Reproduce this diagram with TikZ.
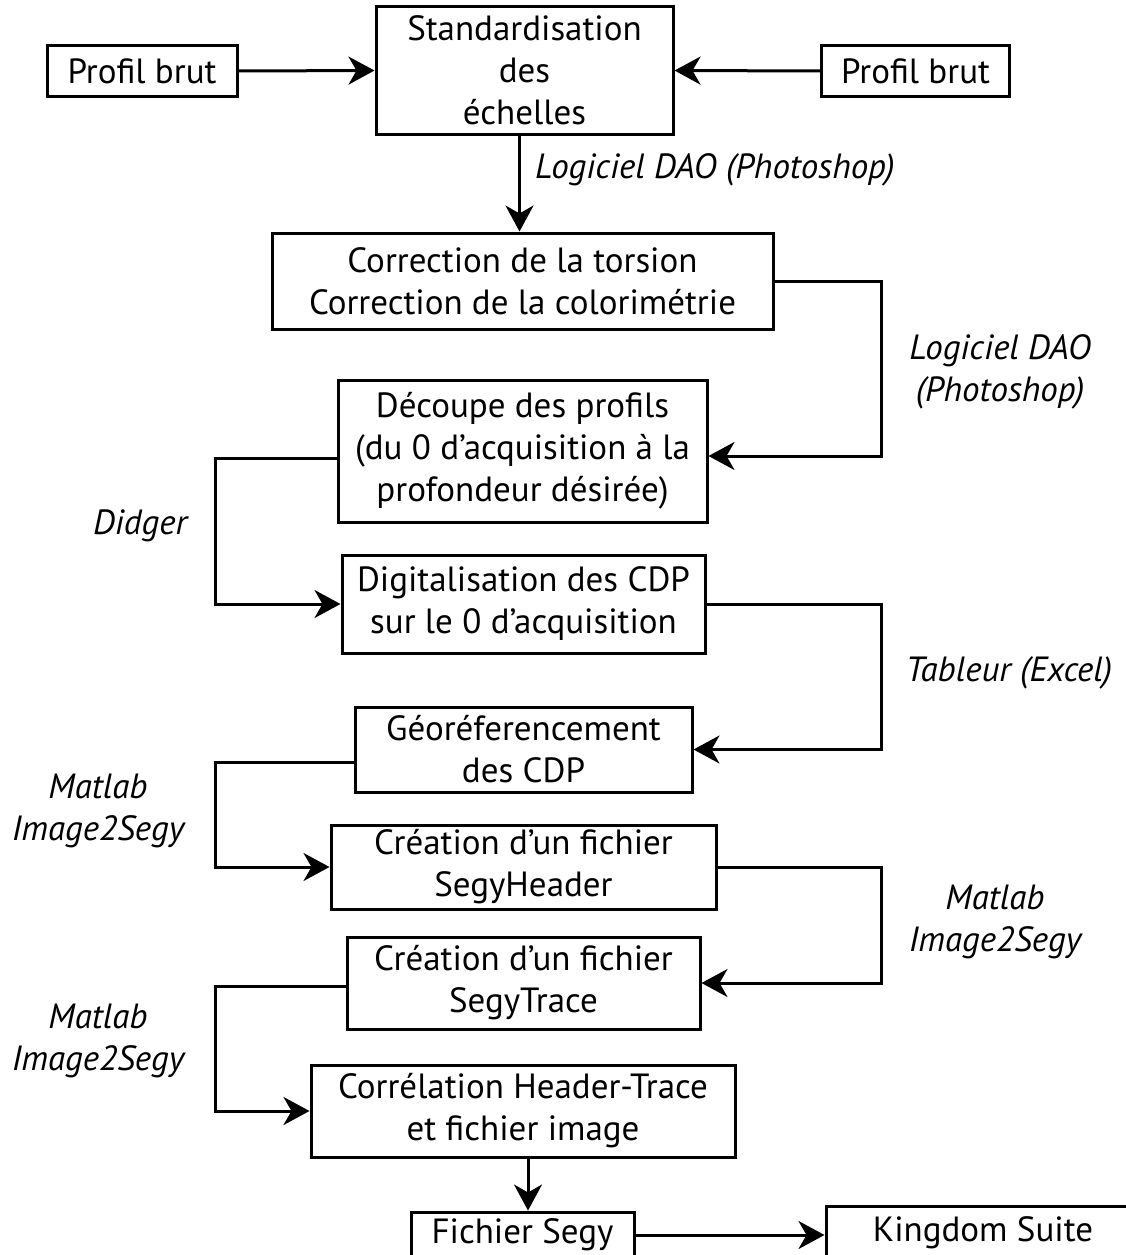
\documentclass[tikz,border=0pt]{standalone}
\usepackage{fontspec}
\setmainfont{PT Sans}
\usetikzlibrary{arrows.meta}
\newcommand\fs{\fontsize{35}{42}\selectfont}
\newcommand\shiftlines[2]{\raisebox{#1}{\begin{tabular}{@{}c@{}}#2\end{tabular}}}
\tikzset{
  bx/.style={draw, line width=3pt, inner sep=0pt, align=center, font=\fs},
  lbl/.style={font=\fs\itshape, align=center, inner sep=0pt},
  con/.style={line width=3pt, -{Stealth[length=26pt,width=28pt,inset=8pt]}},
}
\begin{document}
\begin{tikzpicture}[x=1pt,y=-1pt]
\useasboundingbox (0,0) rectangle (1126,1255);
\fill[white] (0,0) rectangle (1126,1255);
\coordinate (xl) at (215,0);
\coordinate (xr) at (881,0);

\node[bx, minimum width=190pt, minimum height=51pt] (A) at (142,71) {Profil brut};
\node[bx, minimum width=297pt, minimum height=127pt] (B) at (524.5,70.5) {Standardisation\\des\\échelles};
\node[bx, minimum width=188pt, minimum height=51pt] (C) at (915.5,71) {Profil brut};
\node[bx, minimum width=501pt, minimum height=96pt] (D) at (522.5,281) {Correction de la torsion\\Correction de la colorimétrie};
\node[bx, minimum width=369pt, minimum height=142pt] (E) at (522.5,451) {\shiftlines{4pt}{Découpe des profils\\(du 0 d’acquisition à la\\profondeur désirée)}};
\node[bx, minimum width=363pt, minimum height=98pt] (F) at (523.5,604) {Digitalisation des CDP\\sur le 0 d’acquisition};
\node[bx, minimum width=337pt, minimum height=85pt] (G) at (523.5,749.5) {Géoréferencement\\des CDP};
\node[bx, minimum width=385pt, minimum height=84pt] (H) at (523.5,867) {Création d’un fichier\\SegyHeader};
\node[bx, minimum width=353pt, minimum height=92pt] (I) at (523.5,983) {Création d’un fichier\\SegyTrace};
\node[bx, minimum width=424pt, minimum height=92pt] (J) at (523,1111) {\shiftlines{-4pt}{Corrélation Header-Trace\\et fichier image}};
\node[bx, minimum width=223pt, minimum height=46pt] (K) at (522.5,1235) {Fichier Segy};
\node[bx, minimum width=314pt, minimum height=54pt] (L) at (983,1233) {Kingdom Suite};

\node[lbl, anchor=west] (l1) at (535,170) {Logiciel DAO (Photoshop)};
\node[lbl] (l2) at (1000,372) {Logiciel DAO\\(Photoshop)};
\node[lbl] (l3) at (140,526) {Didger};
\node[lbl] (l4) at (1009,673) {Tableur (Excel)};
\node[lbl] (l5) at (98,811) {Matlab\\Image2Segy};
\node[lbl] (l6) at (995,922) {Matlab\\Image2Segy};
\node[lbl] (l7) at (98,1041) {Matlab\\Image2Segy};

\coordinate (Bs) at ([xshift=-5pt]B.south);
\coordinate (Ein) at ([yshift=-5pt]E.east);
\coordinate (Eout) at ([yshift=-7pt]E.west);
\coordinate (Gout) at ([yshift=-13pt]G.west);
\coordinate (Iout) at ([yshift=-3pt]I.west);
\coordinate (Js) at ([xshift=5pt]J.south);
\coordinate (Ke) at (K.east);

\draw[con] (A.east) -- (B.west);
\draw[con] (C.west) -- (B.east);
\draw[con] (Bs) -- (Bs |- D.north);
\draw[con] (D.east) -- (xr |- D.east) -- (xr |- Ein) -- (Ein);
\draw[con] (Eout) -- (xl |- Eout) -- (xl |- F.west) -- (F.west);
\draw[con] (F.east) -- (xr |- F.east) -- (xr |- G.east) -- (G.east);
\draw[con] (Gout) -- (xl |- Gout) -- (xl |- H.west) -- (H.west);
\draw[con] (H.east) -- (xr |- H.east) -- (xr |- I.east) -- (I.east);
\draw[con] (Iout) -- (xl |- Iout) -- (xl |- J.west) -- (J.west);
\draw[con] (Js) -- (Js |- K.north);
\draw[con] (Ke) -- (Ke -| L.west);
\end{tikzpicture}
\end{document}
